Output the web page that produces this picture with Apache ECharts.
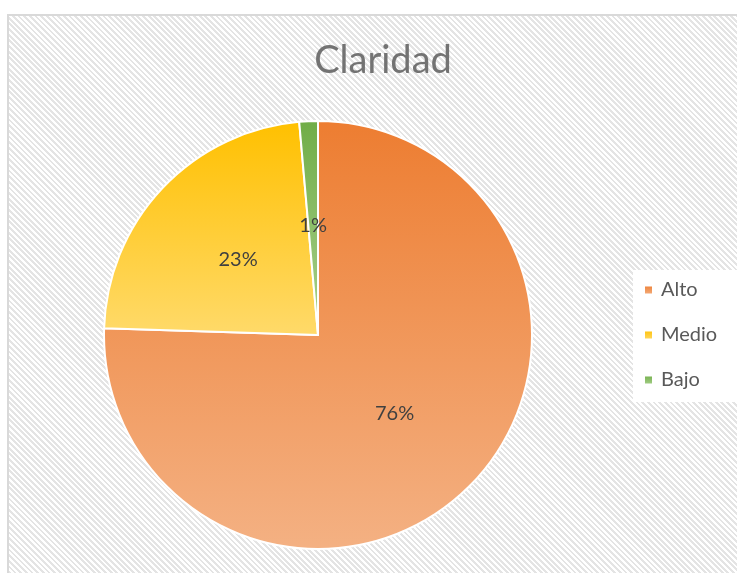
<!DOCTYPE html>
<html>
<head>
<meta charset="utf-8">
<script src="https://cdn.jsdelivr.net/npm/echarts@6/dist/echarts.min.js"></script>
<style>
  html, body { margin: 0; padding: 0; background: #fff; }
  #wrap { position: relative; width: 737px; height: 573px; overflow: hidden; }
  #frame {
    position: absolute; left: 7px; top: 14px; width: 740px; height: 570px;
    border: 2px solid #d9d9d9; box-sizing: border-box;
    background: repeating-linear-gradient(45deg, #ffffff 0px, #ffffff 2px, #e4e4e4 2px, #e4e4e4 4px);
  }
  #chart { position: absolute; left: 0; top: 0; width: 737px; height: 573px; }
</style>
</head>
<body>
<div id="wrap">
  <div id="frame"></div>
  <div id="chart"></div>
</div>
<script>
const categories = ["Alto", "Medio", "Bajo"];
const values = [75.5, 23.1, 1.4];
const topColors = ["#ED7D31", "#FFC000", "#70AD47"];
const bottomColors = ["#F4B183", "#FFDA6A", "#A9D18E"];

const chart = echarts.init(document.getElementById("chart"));

const total = values.reduce((a, b) => a + b, 0);

const option = {
  backgroundColor: "transparent",
  title: {
    text: "Claridad",
    left: 378,
    top: 37,
    textAlign: "center",
    textStyle: {
      fontFamily: "Lato",
      fontSize: 38,
      fontWeight: "normal",
      color: "#737373",
    },
  },
  legend: {
    orient: "vertical",
    left: 633,
    top: 270,
    padding: [10, 20, 12, 10],
    backgroundColor: "#ffffff",
    itemWidth: 9,
    itemHeight: 9,
    itemGap: 25,
    icon: "rect",
    data: categories,
    textStyle: {
      fontFamily: "Lato",
      fontSize: 20,
      color: "#595959",
      padding: [0, 0, 0, 3],
    },
  },
  series: [
    {
      type: "pie",
      center: [318, 335],
      radius: 214,
      startAngle: 90,
      clockwise: true,
      avoidLabelOverlap: false,
      label: {
        show: true,
        position: "inside",
        fontFamily: "Lato",
        fontSize: 20,
        color: "#404040",
        formatter: (p) => Math.round((p.value / total) * 100) + "%",
      },
      labelLine: { show: false },
      emphasis: { disabled: true },
      itemStyle: { borderColor: "#ffffff", borderWidth: 2 },
      data: categories.map((name, i) => ({
        name: name,
        value: values[i],
        itemStyle: {
          color: new echarts.graphic.LinearGradient(0, 0, 0, 1, [
            { offset: 0, color: topColors[i] },
            { offset: 1, color: bottomColors[i] },
          ]),
        },
      })),
    },
  ],
};

chart.setOption(option);
</script>
</body>
</html>
